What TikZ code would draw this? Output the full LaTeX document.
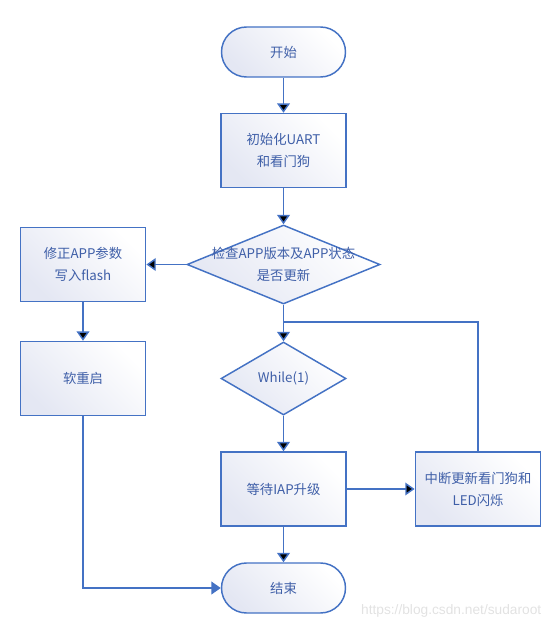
\documentclass[tikz,border=0pt]{standalone}
\usepackage{fontspec}
\setsansfont{Liberation Sans}
\newfontfamily\cjk{Noto Sans CJK SC}
\usepackage{xcolor}
\usetikzlibrary{arrows.meta, shapes.geometric, calc}

\definecolor{flowline}{HTML}{4472C4}
\definecolor{flowtext}{HTML}{3F5FA8}
\definecolor{flowfill}{HTML}{E4E7F3}
\definecolor{markgray}{HTML}{E2E2E2}

\tikzset{
  flowbase/.style={draw=flowline, line width=1.1pt, top color=flowfill, bottom color=white,
    shading angle=135, inner sep=0pt},
  terminal/.style={flowbase, rectangle, rounded corners=18.75pt,
    minimum width=93pt, minimum height=37.5pt},
  process/.style={flowbase, rectangle, minimum width=94pt, minimum height=55.5pt},
  decision/.style={flowbase, diamond, aspect=1.6},
  flowlabel/.style={text=flowtext, align=center, font=\cjk\fontsize{10}{16.5}\selectfont},
  flowedge/.style={draw=flowline, line width=1.1pt},
}

\begin{document}
\begin{tikzpicture}[x=0.75pt, y=-0.75pt, >={Triangle[length=7pt, width=9.5pt]}]
                        \useasboundingbox (0,0) rectangle (555,630);
                        \node[terminal] (start) at (283.5, 52) {};
                        \node[process] (init) at (283.5, 150.5) {};
                        \node[decision, minimum width=144.75pt, minimum height=59.25pt] (check) at (283.5, 264.5) {};
                        \node[process] (fix) at (83, 264.5) {};
                        \node[process] (reboot) at (83, 378.5) {};
                        \node[decision, minimum width=93.75pt, minimum height=54.75pt] (loop) at (283.5, 378.5) {};
                        \node[process] (wait) at (283.5, 489) {};
                        \node[process] (isr) at (478, 489) {};
                        \node[terminal] (finish) at (283.5, 588) {};
                        \coordinate (join) at (283.5, 322);
                        % texts
                        \node[flowlabel] () at (start) {开始};
                        \node[flowlabel] () at (init) {初始化UART\\和看门狗};
                        \node[flowlabel] () at (check) {检查APP版本及APP状态\\是否更新};
                        \node[flowlabel] () at (fix) {修正APP参数\\写入flash};
                        \node[flowlabel] () at (reboot) {软重启};
                        \node[flowlabel] () at (loop) {While(1)};
                        \node[flowlabel] () at (wait) {等待IAP升级};
                        \node[flowlabel] () at (isr) {中断更新看门狗和\\LED闪烁};
                        \node[flowlabel] () at (finish) {结束};
                        \node[text=markgray, anchor=east, font=\sffamily\fontsize{10.3}{12}\selectfont] (mark) at (546, 611) {https://blog.csdn.net/sudaroot};
                        \draw[flowedge]
                        (start) edge[->] (init)
                        (init) edge[->] (check)
                        (check) edge[->] (fix)
                        (fix) edge[->] (reboot)
                        (check) edge[->] (loop)
                        (loop) edge[->] (wait)
                        (wait) edge[->] (isr)
                        (wait) edge[->] (finish);
                        \draw[flowedge] (isr.north) |- (join);
                        \draw[flowedge, ->] (reboot.south) |- (finish.west);
                    \end{tikzpicture}
\end{document}
